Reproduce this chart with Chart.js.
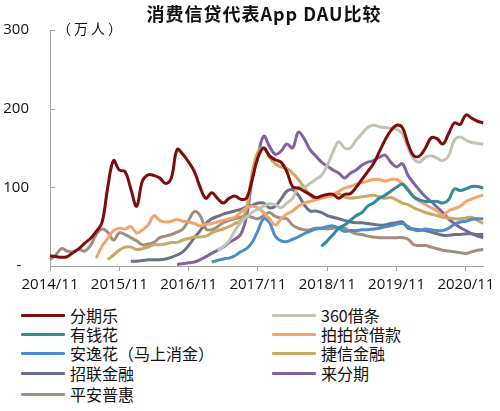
<!DOCTYPE html>
<html>
<head>
<meta charset="utf-8">
<script src="https://cdn.jsdelivr.net/npm/chart.js@4.4.1/dist/chart.umd.min.js"></script>
<style>
  html, body { margin: 0; padding: 0; background: #fff; }
  #wrap { position: relative; width: 500px; height: 411px; font-family: "Noto Sans CJK SC", sans-serif; color: #111; }
  canvas { position: absolute; left: 0; top: 0; }
  #title { position: absolute; left: 0; top: 2px; width: 528px; text-align: center; font-weight: bold; font-size: 18px; letter-spacing: 1px; line-height: 22px; }
  #unit { position: absolute; left: 57px; top: 19px; font-size: 14px; line-height: 18px; letter-spacing: 3px; }
  .item { position: absolute; height: 20px; display: flex; align-items: center; font-size: 16px; line-height: 20px; white-space: nowrap; }
  .swatch { width: 44px; height: 3px; margin-right: 5px; border-radius: 1px; }
</style>
</head>
<body>
<div id="wrap">
  <canvas id="myChart" width="500" height="300"></canvas>
  <div id="title">消费信贷代表App DAU比较</div>
  <div id="unit">（万人）</div>
  <div id="legend"></div>
</div>
<script>
// months 2014/11 .. 2021/02
const months = [];
for (let y = 2014, m = 11; months.length < 76; m++) {
  if (m > 12) { m = 1; y++; }
  months.push(y + '/' + m);
}

const yTicks = [0, 100, 200, 300];

const seriesNames = ['分期乐', '360借条', '有钱花', '拍拍贷借款', '安逸花（马上消金）', '捷信金融', '招联金融', '来分期', '平安普惠'];
const seriesColors = ['#7F0B0B', '#C3C3B5', '#2F8A9C', '#F2A46C', '#4A8DCB', '#C8A862', '#6A7189', '#7F62A6', '#A38D7F'];

const _ = null;

const fenqile = [13, 12, 11, 12, 17, 22, 29, 35, 44, 55, 100, 134, 122, 120, 98, 76, 108, 116, 115, 112,
  105, 112, 148, 142, 132, 120, 100, 86, 93, 86, 80, 86, 89, 85, 86, 110, 138, 150, 140, 135,
  132, 120, 101, 99, 95, 91, 87, 89, 91, 91, 86, 91, 92, 100, 110, 120, 130, 145, 160, 172,
  179, 176, 155, 140, 140, 150, 163, 162, 155, 168, 182, 180, 192, 188, 184, 182];

const jietiao360 = [_, _, _, _, _, _, _, _, _, _, _, _, _, _, _, _, _, _, _, _,
  _, _, _, _, _, _, _, _, _, 20, 25, 32, 45, 55, 62, 68, 72, 76, 79, 78,
  74, 80, 86, 100, 100, 105, 110, 115, 128, 145, 158, 150, 150, 160, 168, 176, 179, 177, 176, 175,
  174, 168, 150, 136, 132, 138, 140, 137, 134, 140, 160, 164, 160, 157, 156, 155];

const youqianhua = [_, _, _, _, _, _, _, _, _, _, _, _, _, _, _, _, _, _, _, _,
  _, _, _, _, _, _, _, _, _, _, _, _, _, _, _, _, _, _, _, _,
  _, _, _, _, _, _, _, 25, 32, 40, 48, 52, 58, 64, 68, 76, 80, 86, 90, 95,
  100, 104, 96, 88, 84, 82, 82, 82, 80, 84, 98, 96, 98, 101, 101, 99];

const paipaidai = [_, _, _, _, _, _, _, _, 10, 25, 35, 45, 48, 47, 50, 42, 46, 52, 64, 58,
  56, 57, 59, 57, 56, 54, 51, 53, 54, 56, 58, 60, 62, 68, 74, 76, 74, 68, 60, 52,
  60, 66, 70, 76, 80, 82, 84, 86, 88, 91, 95, 99, 101, 104, 106, 108, 110, 110, 108, 110,
  110, 105, 98, 87, 82, 78, 74, 70, 64, 70, 73, 76, 82, 85, 88, 90];

const anyihua = [_, _, _, _, _, _, _, _, _, _, _, _, _, _, _, _, _, _, _, _,
  _, _, _, _, _, _, _, _, 5, 7, 9, 10, 13, 18, 22, 30, 45, 60, 55, 38,
  32, 31, 34, 37, 41, 44, 47, 48, 50, 51, 48, 44, 45, 45, 46, 46, 47, 48, 50, 51,
  53, 54, 50, 46, 45, 47, 46, 45, 45, 48, 53, 56, 57, 59, 60, 60];

const jiexin = [_, _, _, _, _, _, _, _, _, _, 8, 14, 20, 24, 24, 21, 22, 24, 27, 27,
  28, 30, 30, 33, 35, 37, 37, 38, 42, 45, 47, 50, 54, 58, 72, 118, 145, 150, 138, 130,
  126, 124, 118, 110, 100, 90, 86, 87, 88, 90, 92, 88, 86, 87, 88, 89, 90, 88, 86, 87,
  84, 80, 78, 74, 71, 68, 66, 64, 62, 61, 60, 60, 61, 62, 58, 54];

const zhaolian = [_, _, _, _, _, _, _, _, _, _, _, _, _, _, 6, 6, 7, 8, 8, 8,
  9, 11, 14, 18, 26, 36, 45, 54, 60, 63, 66, 68, 70, 72, 75, 77, 80, 80, 74, 76,
  85, 95, 97, 90, 78, 70, 70, 68, 64, 62, 60, 58, 56, 55, 55, 54, 53, 52, 52, 54,
  55, 56, 48, 47, 46, 45, 43, 41, 39, 39, 40, 40, 41, 41, 40, 40];

const laifenqi = [_, _, _, _, _, _, _, _, _, _, _, _, _, _, _, _, _, _, _, _,
  _, _, 2, 3, 4, 5, 8, 12, 16, 20, 24, 30, 34, 40, 62, 110, 140, 165, 152, 142,
  146, 155, 150, 170, 162, 148, 140, 132, 127, 122, 118, 112, 118, 122, 128, 132, 134, 138, 141, 132,
  126, 130, 115, 105, 96, 88, 82, 75, 68, 60, 54, 49, 45, 41, 38, 36];

const pingan = [8, 14, 22, 19, 18, 21, 19, 26, 40, 47, 43, 33, 42, 40, 36, 32, 27, 28, 30, 36,
  38, 40, 43, 47, 58, 69, 64, 47, 46, 50, 55, 58, 60, 62, 64, 62, 60, 64, 68, 63,
  61, 60, 52, 48, 46, 46, 48, 48, 47, 48, 49, 48, 44, 41, 40, 38, 37, 36, 36, 36,
  36, 36, 34, 27, 26, 26, 24, 22, 20, 19, 18, 17, 16, 18, 20, 21];

const seriesValues = [fenqile, jietiao360, youqianhua, paipaidai, anyihua, jiexin, zhaolian, laifenqi, pingan];

const datasets = seriesNames.map((name, i) => ({
  label: name,
  data: seriesValues[i],
  borderColor: seriesColors[i],
  backgroundColor: seriesColors[i],
  borderWidth: 3,
  pointRadius: 0,
  tension: 0.4,
  fill: false
}));

// small inward tick marks on the y axis
const innerTicks = {
  id: 'innerTicks',
  afterDraw(chart) {
    const y = chart.scales.y;
    const c = chart.ctx;
    c.save();
    c.strokeStyle = '#A6A6A6';
    c.lineWidth = 1;
    yTicks.forEach(v => {
      const py = Math.round(y.getPixelForValue(v)) + 0.5;
      c.beginPath();
      c.moveTo(y.right, py);
      c.lineTo(y.right + 5, py);
      c.stroke();
    });
    c.restore();
  }
};

const ctx = document.getElementById('myChart').getContext('2d');
new Chart(ctx, {
  type: 'line',
  data: { labels: months, datasets: datasets },
  options: {
    responsive: false,
    animation: false,
    layout: { padding: { top: 26, right: 16, left: 0, bottom: 0 } },
    plugins: { legend: { display: false }, tooltip: { enabled: false } },
    scales: {
      x: {
        grid: { drawOnChartArea: false, color: '#A6A6A6', tickLength: 5, offset: false },
        border: { color: '#A6A6A6' },
        ticks: {
          autoSkip: false, maxRotation: 0, padding: 5, color: '#111',
          font: { family: 'Open Sans', size: 15 },
          callback: (v, i) => (i % 12 === 0 ? months[i] : null)
        },
        afterFit: s => { s.height = 34; }
      },
      y: {
        min: 0, max: 300,
        grid: { drawOnChartArea: false, drawTicks: false },
        border: { color: '#A6A6A6' },
        ticks: {
          stepSize: 100, padding: 21, color: '#111',
          font: { family: 'Open Sans', size: 15 },
          callback: v => (v === 0 ? '-  ' : v)
        },
        afterFit: s => { s.width = 50; }
      }
    }
  },
  plugins: [innerTicks]
});

// two-column legend built from the datasets
const legend = document.getElementById('legend');
const rowY = [315, 334, 353, 373, 394];
datasets.forEach((ds, i) => {
  const col = i % 2, row = Math.floor(i / 2);
  const el = document.createElement('div');
  el.className = 'item';
  el.style.left = (col === 0 ? 21 : 272) + 'px';
  el.style.top = (rowY[row] - 10) + 'px';
  el.innerHTML = '<span class="swatch" style="background:' + ds.borderColor + '"></span>' + ds.label;
  legend.appendChild(el);
});
</script>
</body>
</html>
